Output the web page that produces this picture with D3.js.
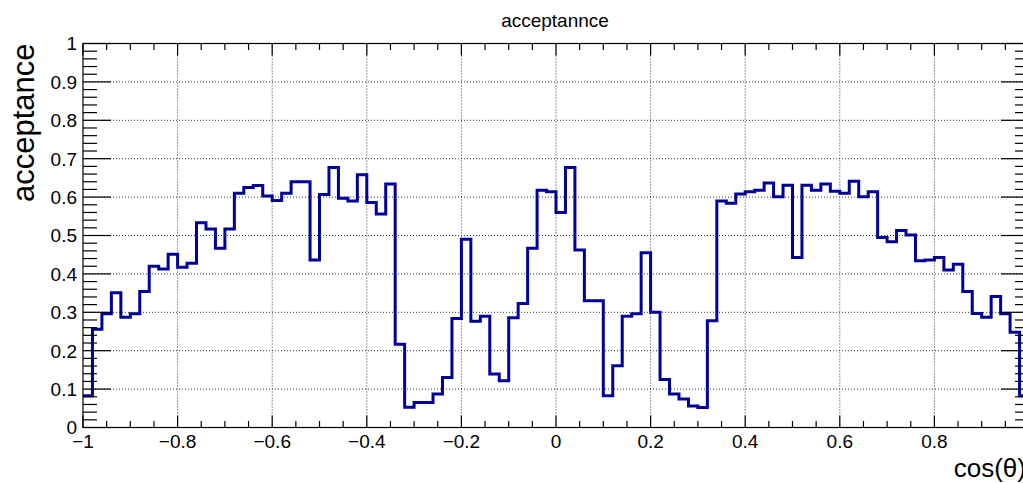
<!DOCTYPE html>
<html>
<head>
<meta charset="utf-8">
<script src="https://cdn.jsdelivr.net/npm/d3@7"></script>
<style>
  body { margin: 0; background: #fff; }
  text { font-family: "Liberation Sans", Arial, sans-serif; fill: #000; }
</style>
</head>
<body>
<div class="chart"></div>
<script>
// histogram: 100 bins from -1 to 1
var xMin = -1, xMax = 1, nBins = 100
var acceptance = [
  0.083, 0.256, 0.296, 0.351, 0.287, 0.296, 0.354, 0.420, 0.413, 0.451,
  0.417, 0.428, 0.533, 0.517, 0.467, 0.517, 0.610, 0.625, 0.630, 0.603,
  0.591, 0.610, 0.640, 0.640, 0.436, 0.607, 0.677, 0.597, 0.590, 0.658,
  0.586, 0.556, 0.634, 0.217, 0.053, 0.065, 0.065, 0.087, 0.130, 0.284,
  0.490, 0.277, 0.290, 0.139, 0.122, 0.286, 0.323, 0.467, 0.618, 0.614,
  0.560, 0.677, 0.462, 0.330, 0.330, 0.083, 0.161, 0.290, 0.296, 0.455,
  0.300, 0.125, 0.087, 0.074, 0.056, 0.052, 0.278, 0.590, 0.584, 0.608,
  0.614, 0.618, 0.637, 0.601, 0.631, 0.443, 0.631, 0.618, 0.634, 0.615,
  0.610, 0.641, 0.601, 0.614, 0.495, 0.484, 0.513, 0.501, 0.434, 0.436,
  0.443, 0.410, 0.425, 0.354, 0.297, 0.287, 0.341, 0.296, 0.248, 0.083
]
var xTicks = [-1, -0.8, -0.6, -0.4, -0.2, 0, 0.2, 0.4, 0.6, 0.8, 1]
var yTicks = [0, 0.1, 0.2, 0.3, 0.4, 0.5, 0.6, 0.7, 0.8, 0.9, 1]
var xMinor = d3.range(-1, 1.0001, 0.05)
var yMinor = d3.range(0, 1.0001, 0.02)

var W = 1023, H = 483
var padL = 83, padR = 1029, padT = 43.5, padB = 427.5

const x = d3.scaleLinear().domain([xMin, xMax]).range([padL, padR])
const y = d3.scaleLinear().domain([0, 1]).range([padB, padT])

const svg = d3.select('.chart')
  .append('svg')
  .attr('width', W)
  .attr('height', H)
  .style('display', 'block')

// grid
svg.append('g').selectAll('line')
  .data(xTicks.filter(d => d > -1 && d < 1))
  .enter().append('line')
  .attr('x1', d => x(d)).attr('x2', d => x(d))
  .attr('y1', padT).attr('y2', padB)
  .attr('stroke', '#333').attr('stroke-dasharray', '1,2')
svg.append('g').selectAll('line')
  .data(yTicks.filter(d => d > 0 && d < 1))
  .enter().append('line')
  .attr('x1', padL).attr('x2', padR)
  .attr('y1', d => y(d)).attr('y2', d => y(d))
  .attr('stroke', '#333').attr('stroke-dasharray', '1,2')

// histogram outline
var pts = acceptance.map((v, i) => [xMin + i * (xMax - xMin) / nBins, v])
pts.push([xMax, acceptance[nBins - 1]])
const line = d3.line()
  .x(d => x(d[0]))
  .y(d => y(d[1]))
  .curve(d3.curveStepAfter)
svg.append('path')
  .attr('d', line(pts))
  .attr('fill', 'none')
  .attr('stroke', '#000099')
  .attr('stroke-width', 3)

// frame
svg.append('rect')
  .attr('x', padL).attr('y', padT)
  .attr('width', padR - padL).attr('height', padB - padT)
  .attr('fill', 'none').attr('stroke', '#000').attr('stroke-width', 1.2)

// ticks (ROOT style: ticks on all four sides, pointing inward)
function isMajor(list, d) { return list.some(t => Math.abs(t - d) < 1e-6) }
var tk = svg.append('g').attr('stroke', '#000').attr('stroke-width', 1.2)
xMinor.forEach(d => {
  var len = isMajor(xTicks, d) ? 12 : 6.5
  tk.append('line').attr('x1', x(d)).attr('x2', x(d)).attr('y1', padB).attr('y2', padB - len)
  tk.append('line').attr('x1', x(d)).attr('x2', x(d)).attr('y1', padT).attr('y2', padT + len)
})
yMinor.forEach(d => {
  var len = isMajor(yTicks, d) ? 28 : 14
  tk.append('line').attr('x1', padL).attr('x2', padL + len).attr('y1', y(d)).attr('y2', y(d))
  tk.append('line').attr('x1', padR).attr('x2', padR - len).attr('y1', y(d)).attr('y2', y(d))
})

// tick labels
var fmt = d3.format('')
svg.append('g').selectAll('text')
  .data(xTicks.filter(d => x(d) < W))
  .enter().append('text')
  .attr('x', d => x(d))
  .attr('y', padB + 20)
  .attr('text-anchor', 'middle')
  .style('font-size', '19px')
  .text(d => fmt(d))
svg.append('g').selectAll('text')
  .data(yTicks)
  .enter().append('text')
  .attr('x', padL - 6)
  .attr('y', d => y(d) + 6.8)
  .attr('text-anchor', 'end')
  .style('font-size', '19px')
  .text(d => fmt(d))

// titles
svg.append('text')
  .attr('x', 555).attr('y', 27)
  .attr('text-anchor', 'middle')
  .style('font-size', '19px')
  .text('acceptannce')
svg.append('text')
  .attr('transform', `translate(34, ${padT}) rotate(-90)`)
  .attr('text-anchor', 'end')
  .style('font-size', '31px')
  .text('acceptance')
svg.append('text')
  .attr('x', padR - 3).attr('y', 477)
  .attr('text-anchor', 'end')
  .style('font-size', '26px')
  .text('cos(θ)')
</script>
</body>
</html>
